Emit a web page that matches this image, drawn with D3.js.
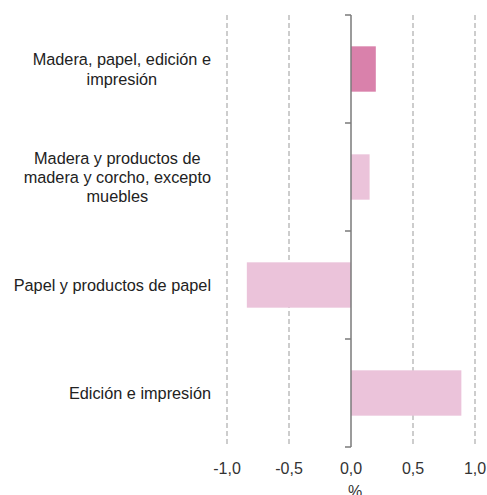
<!DOCTYPE html>
<html>
<head>
<meta charset="utf-8">
<script src="https://cdn.jsdelivr.net/npm/d3@7"></script>
<style>
  body { margin: 0; background: #fff; }
  text { font-family: "Liberation Sans", Arial, sans-serif; }
</style>
</head>
<body>
<div id="chart"></div>
<script>
var categories = [
  ["Madera, papel, edición e", "impresión"],
  ["Madera y productos de", "madera y corcho, excepto", "muebles"],
  ["Papel y productos de papel"],
  ["Edición e impresión"]
];
var values = [0.20, 0.15, -0.84, 0.89];
var barColors = ["#d981ab", "#ebc3da", "#ebc3da", "#ebc3da"];
var tickValues = [-1, -0.5, 0, 0.5, 1];

var width = 487, height = 495;
var svg = d3.select('#chart').append('svg')
  .attr('width', width)
  .attr('height', height);

var x = d3.scaleLinear().domain([-1, 1]).range([227, 475]);
var y = d3.scaleBand().domain(d3.range(categories.length)).range([15, 447]).paddingInner(0.58).paddingOuter(0.29);

// dashed gridlines
svg.selectAll('line.grid').data(tickValues.filter(function (d) { return d !== 0; }))
  .enter().append('line')
  .attr('class', 'grid')
  .attr('x1', function (d) { return x(d); })
  .attr('x2', function (d) { return x(d); })
  .attr('y1', 15).attr('y2', 447)
  .attr('stroke', '#b3b3b3')
  .attr('stroke-width', 1.3)
  .attr('stroke-dasharray', '5,3');

// bars
svg.selectAll('rect.bar').data(values)
  .enter().append('rect')
  .attr('class', 'bar')
  .attr('x', function (d) { return x(Math.min(0, d)); })
  .attr('width', function (d) { return Math.abs(x(d) - x(0)); })
  .attr('y', function (d, i) { return y(i); })
  .attr('height', y.bandwidth())
  .attr('fill', function (d, i) { return barColors[i]; });

// zero axis with category dividers
var bounds = d3.range(categories.length + 1).map(function (i) { return 15 + i * (432 / categories.length); });
svg.append('line')
  .attr('x1', x(0)).attr('x2', x(0))
  .attr('y1', 15).attr('y2', 447)
  .attr('stroke', '#7a7a7a').attr('stroke-width', 1.5);
svg.selectAll('line.div').data(bounds)
  .enter().append('line')
  .attr('class', 'div')
  .attr('x1', x(0) - 6).attr('x2', x(0))
  .attr('y1', function (d) { return d; })
  .attr('y2', function (d) { return d; })
  .attr('stroke', '#7a7a7a').attr('stroke-width', 1.5);

// x tick labels
svg.selectAll('text.tick').data(tickValues)
  .enter().append('text')
  .attr('class', 'tick')
  .attr('x', function (d) { return x(d); })
  .attr('y', 474)
  .attr('text-anchor', 'middle')
  .attr('font-size', 16)
  .attr('fill', '#333')
  .text(function (d) { return d.toFixed(1).replace('.', ','); });

svg.append('text')
  .attr('x', x(0) + 4).attr('y', 497)
  .attr('text-anchor', 'middle')
  .attr('font-size', 16)
  .attr('fill', '#333')
  .text('%');

// category labels, centered block right-aligned at 211
var lineH = 19.3;
categories.forEach(function (lines, i) {
  var g = svg.append('g');
  var cy = y(i) + y.bandwidth() / 2;
  var t = g.selectAll('text').data(lines).enter().append('text')
    .attr('font-size', 16.3)
    .attr('fill', '#222')
    .attr('text-anchor', 'middle')
    .attr('y', function (d, j) { return cy + (j - (lines.length - 1) / 2) * lineH + 6; })
    .text(function (d) { return d; });
  var maxW = 0;
  t.each(function () { maxW = Math.max(maxW, this.getComputedTextLength()); });
  t.attr('x', 211 - maxW / 2);
});
</script>
</body>
</html>
